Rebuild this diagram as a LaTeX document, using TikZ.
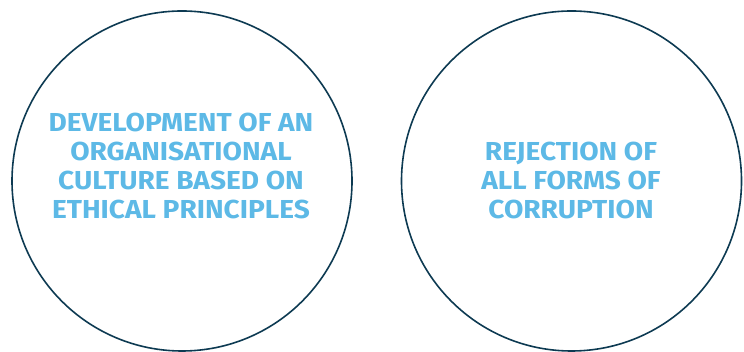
\documentclass[tikz,border=0pt]{standalone}
\usepackage{fontspec}
\setmainfont{Fira Sans}[FakeStretch=1.08]
\usetikzlibrary{positioning}

\definecolor{ringnavy}{HTML}{0D3A52}
\definecolor{textblue}{HTML}{5DB9E6}

\begin{document}
\begin{tikzpicture}[x=1pt,y=1pt]

    \useasboundingbox (0,0) rectangle (744,352);

    \begin{scope}[every node/.style={circle,draw=ringnavy,line width=1.6pt,minimum size=340pt,inner sep=0pt}]
        \node (culture) at (182,171) {}; % left ring
        \node (corruption) at (571.5,171) {}; % right ring
    \end{scope}

    \begin{scope}[every node/.style={align=center,text=textblue,font=\fontsize{26}{29.3}\selectfont\bfseries,inner sep=0pt}]
        \node (culturetext) at (181,186) {DEVELOPMENT OF AN\\ORGANISATIONAL\\CULTURE BASED ON\\ETHICAL PRINCIPLES};
        \node (corruptiontext) at (571,171.5) {REJECTION OF\\ALL FORMS OF\\CORRUPTION};
    \end{scope}

\end{tikzpicture}
\end{document}
